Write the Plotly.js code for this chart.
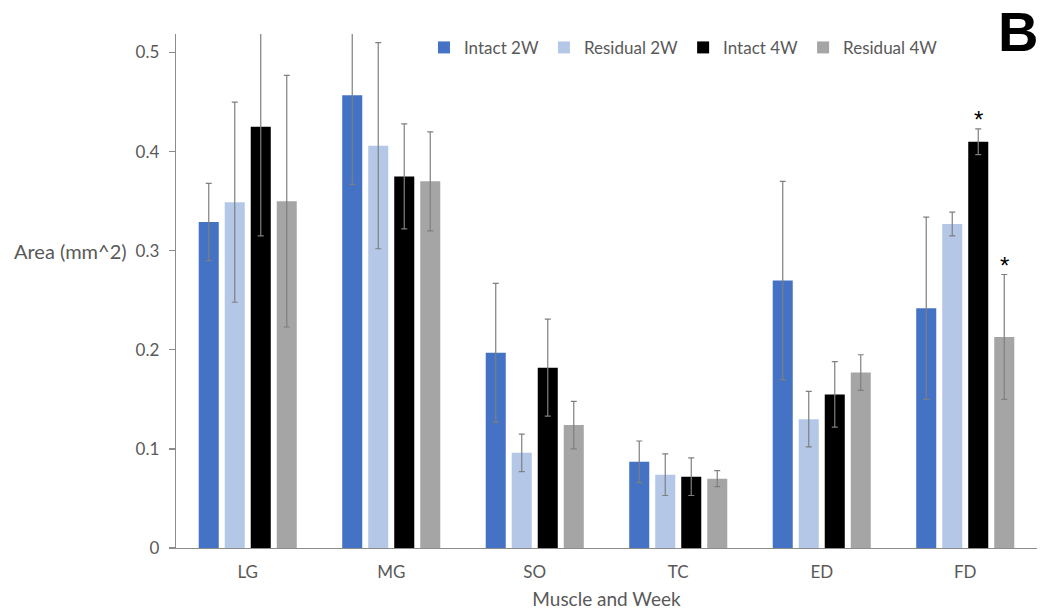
<!DOCTYPE html>
<html>
<head>
<meta charset="utf-8">
<script src="https://cdn.plot.ly/plotly-3.0.1.min.js"></script>
<style>html,body{margin:0;padding:0;background:#fff;}#chart{width:1041px;height:614px;}</style>
</head>
<body>
<div id="chart"></div>
<script>
const categories = ["LG", "MG", "SO", "TC", "ED", "FD"];
const seriesNames = ["Intact 2W", "Residual 2W", "Intact 4W", "Residual 4W"];
const intact2W = [0.329, 0.457, 0.197, 0.087, 0.270, 0.242];
const intact2WErr = [0.039, 0.090, 0.070, 0.021, 0.100, 0.092];
const residual2W = [0.349, 0.406, 0.096, 0.074, 0.130, 0.327];
const residual2WErr = [0.101, 0.104, 0.019, 0.021, 0.028, 0.012];
const intact4W = [0.425, 0.375, 0.182, 0.072, 0.155, 0.410];
const intact4WErr = [0.110, 0.053, 0.049, 0.019, 0.033, 0.013];
const residual4W = [0.350, 0.370, 0.124, 0.070, 0.177, 0.213];
const residual4WErr = [0.127, 0.050, 0.024, 0.008, 0.018, 0.063];
const colors = ["#4472C4", "#B4C7E7", "#000000", "#A5A5A5"];
// significance markers: [category, series index]
const significance = [["FD", 2], ["FD", 3]];

const values = [intact2W, residual2W, intact4W, residual4W];
const errors = [intact2WErr, residual2WErr, intact4WErr, residual4WErr];

const font = "Lato, 'Open Sans', 'Noto Sans', sans-serif";
const grey = "#595959";

const traces = values.map((v, i) => ({
  type: "bar",
  name: seriesNames[i],
  x: categories,
  y: v,
  marker: {color: colors[i], line: {width: 0}},
  error_y: {type: "data", array: errors[i], visible: true, color: "#7F7F7F", thickness: 1.2, width: 3}
}));

const offsets = [-39, -13, 13, 39];
const annotations = significance.map(([cat, s]) => {
  const idx = categories.indexOf(cat);
  return {
    x: cat, y: values[s][idx] + errors[s][idx], xref: "x", yref: "y",
    xshift: offsets[s], yshift: -6, yanchor: "bottom", showarrow: false,
    text: "*", font: {family: "'Liberation Sans', Arial, sans-serif", size: 24, color: "#000"}
  };
});
annotations.push({
  xref: "paper", yref: "paper", x: -0.19, y: 0.578, xanchor: "left", yanchor: "middle",
  showarrow: false, text: "Area (mm^2)", font: {family: font, size: 20, color: grey}
});
annotations.push({
  xref: "paper", yref: "paper", x: 1.0035, y: 1.07, xanchor: "right", yanchor: "top",
  showarrow: false, text: "<b>B</b>", font: {family: "'Liberation Sans', Arial, sans-serif", size: 56, color: "#000"}
});

const layout = {
  width: 1041, height: 614,
  margin: {l: 176, r: 4, t: 34, b: 66},
  paper_bgcolor: "#fff", plot_bgcolor: "#fff",
  barmode: "group", bargap: 0.275, bargroupgap: 0.23,
  showlegend: true,
  legend: {orientation: "h", x: 0.288, y: 0.973, xanchor: "left", yanchor: "middle",
           font: {family: font, size: 17, color: grey}, itemwidth: 30, tracegroupgap: 0,
           bgcolor: "rgba(0,0,0,0)", itemclick: false},
  xaxis: {
    type: "category", showline: true, linecolor: "#8C8C8C", linewidth: 1.3,
    ticks: "", showgrid: false, zeroline: false, ticklabelstandoff: 8,
    tickfont: {family: font, size: 17, color: grey},
    title: {text: "Muscle and Week", font: {family: font, size: 19, color: grey}, standoff: 12}
  },
  yaxis: {
    range: [0, 0.5187], showline: true, linecolor: "#8C8C8C", linewidth: 1.3,
    ticks: "outside", ticklen: 6, tickcolor: "#8C8C8C", tickwidth: 1.3,
    ticklabelstandoff: 6,
    dtick: 0.1, tick0: 0, showgrid: false, zeroline: false,
    tickfont: {family: font, size: 17, color: grey}
  },
  annotations: annotations
};

Plotly.newPlot("chart", traces, layout, {displayModeBar: false, staticPlot: true});
</script>
</body>
</html>
